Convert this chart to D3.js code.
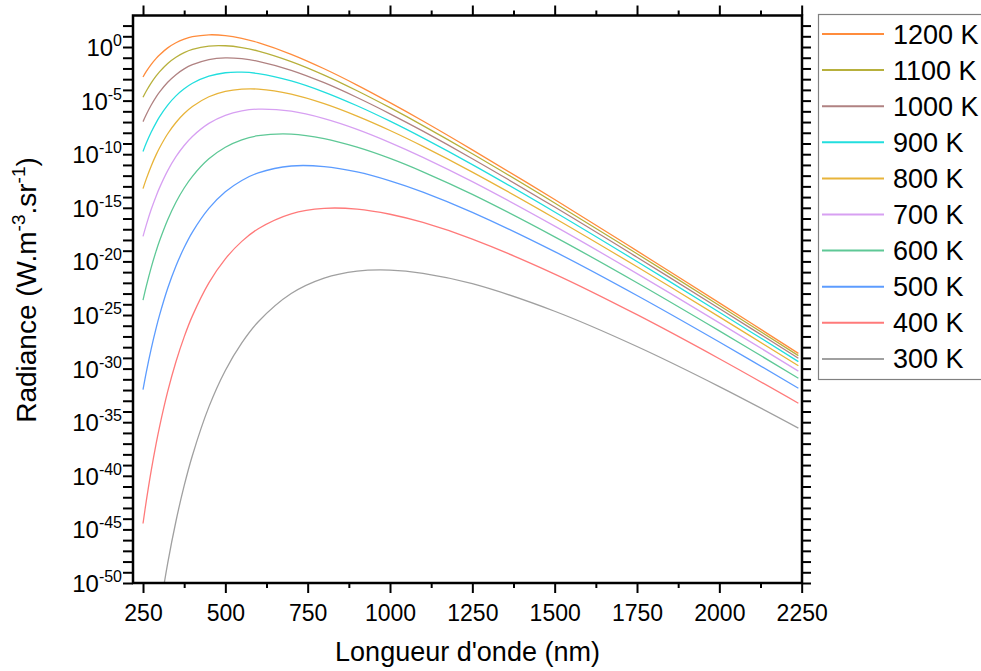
<!DOCTYPE html>
<html><head><meta charset="utf-8">
<script src="https://cdn.jsdelivr.net/npm/d3@7"></script>
<style>body{margin:0;background:#fff;} svg{display:block;}</style>
</head><body>
<svg id="chart" width="981" height="671"></svg>
<script>
// ---- data (radiance given as base-10 exponents) ----
const wavelengths = [250,260,275,290,300,325,350,375,400,450,500,550,600,700,800,900,1000,1100,1250,1500,1750,2000,2240];
const seriesNames = ["1200 K","1100 K","1000 K","900 K","800 K","700 K","600 K","500 K","400 K","300 K"];
const seriesColors = ["#ff8c3c","#b7b03c","#b08282","#22dede","#e8b43a","#d7a0f2","#5ec896","#5c9cff","#ff7a7a","#a0a0a0"];
const exp1200 = [-2.80,-2.28,-1.62,-1.06,-0.74,-0.08,0.40,0.73,0.96,1.14,1.07,0.81,0.41,-0.68,-2.03,-3.55,-5.19,-6.90,-9.59,-14.23,-19.02,-23.87,-28.58];
const exp1100 = [-4.69,-4.10,-3.34,-2.69,-2.32,-1.54,-0.96,-0.53,-0.23,0.09,0.12,-0.05,-0.38,-1.36,-2.62,-4.08,-5.66,-7.33,-9.96,-14.55,-19.29,-24.11,-28.79];
const exp1000 = [-6.96,-6.29,-5.41,-4.65,-4.21,-3.29,-2.58,-2.04,-1.65,-1.17,-1.01,-1.09,-1.33,-2.17,-3.33,-4.71,-6.23,-7.85,-10.42,-14.93,-19.61,-24.39,-29.04];
const exp900  = [-9.74,-8.96,-7.93,-7.05,-6.52,-5.42,-4.56,-3.90,-3.38,-2.72,-2.40,-2.35,-2.48,-3.16,-4.20,-5.48,-6.92,-8.48,-10.97,-15.39,-20.01,-24.74,-29.35];
const exp800  = [-13.21,-12.30,-11.09,-10.04,-9.42,-8.09,-7.04,-6.21,-5.55,-4.64,-4.14,-3.93,-3.93,-4.40,-5.29,-6.45,-7.79,-9.27,-11.67,-15.97,-20.50,-25.17,-29.74];
const exp700  = [-17.67,-16.59,-15.14,-13.89,-13.14,-11.53,-10.23,-9.19,-8.34,-7.12,-6.37,-5.96,-5.79,-5.99,-6.68,-7.68,-8.91,-10.29,-12.56,-16.71,-21.14,-25.73,-30.24];
const exp600  = [-23.62,-22.31,-20.55,-19.02,-18.10,-16.11,-14.48,-13.15,-12.06,-10.43,-9.35,-8.66,-8.27,-8.12,-8.54,-9.34,-10.39,-11.64,-13.75,-17.71,-21.99,-26.48,-30.90];
const exp500  = [-31.96,-30.32,-28.13,-26.20,-25.04,-22.51,-20.43,-18.71,-17.27,-15.06,-13.51,-12.45,-11.74,-11.10,-11.15,-11.65,-12.48,-13.53,-15.42,-19.09,-23.18,-27.52,-31.83];
const exp400  = [-44.45,-42.34,-39.49,-36.97,-35.45,-32.13,-29.36,-27.04,-25.08,-22.00,-19.76,-18.13,-16.95,-15.56,-15.05,-15.12,-15.60,-16.37,-17.92,-21.18,-24.97,-29.08,-33.23];
const exp300  = [-65.28,-62.37,-58.43,-54.93,-52.81,-48.15,-44.24,-40.92,-38.10,-33.57,-30.17,-27.60,-25.63,-23.00,-21.56,-20.91,-20.81,-21.11,-22.08,-24.65,-27.94,-31.68,-35.55];
const xTickValues = [250,500,750,1000,1250,1500,1750,2000,2250];
const xMinorTicks = [375,625,875,1125,1375,1625,1875,2125];
const yLabelExponents = [0,-5,-10,-15,-20,-25,-30,-35,-40,-45,-50];
const xTitle = "Longueur d'onde (nm)";

const seriesExps = [exp1200,exp1100,exp1000,exp900,exp800,exp700,exp600,exp500,exp400,exp300];
const series = seriesNames.map((name,i)=>({
  name, color: seriesColors[i],
  values: wavelengths.map((w,j)=>({x:w, y:Math.pow(10, seriesExps[i][j])}))
}));

// ---- layout ----
const L = 133, R = 802, T = 15.5, B = 583;
const svg = d3.select("#chart");
const x = d3.scaleLinear().domain([219.6, 2251]).range([L, R]);
const y = d3.scaleLog().domain([1e-50, Math.pow(10, 2.94)]).range([B, T]);
const font = "'Liberation Sans', Arial, sans-serif";

svg.append("defs").append("clipPath").attr("id","plotclip")
  .append("rect").attr("x",L).attr("y",T).attr("width",R-L).attr("height",B-T);

// curves
const line = d3.line().x(d=>x(d.x)).y(d=>y(d.y)).curve(d3.curveCatmullRom.alpha(0.5));
svg.append("g").attr("clip-path","url(#plotclip)")
  .selectAll("path").data(series.slice().reverse()).join("path")
  .attr("d", d=>line(d.values))
  .attr("fill","none").attr("stroke", d=>d.color).attr("stroke-width",1.3);

// axes
const yDecades = d3.range(-50, 3, 1).map(e=>Math.pow(10,e));
function styleAxis(g){
  g.select(".domain").remove();
  g.selectAll(".tick line").attr("stroke","#000").attr("stroke-width",2);
}
// bottom major
const gxB = svg.append("g").attr("transform",`translate(0,${B})`)
  .call(d3.axisBottom(x).tickValues(xTickValues).tickSize(10).tickSizeOuter(0).tickPadding(6).tickFormat(d3.format("d")));
styleAxis(gxB);
gxB.selectAll("text").attr("font-family",font).attr("font-size",23).attr("fill","#000").attr("dy","0.95em");
svg.append("g").attr("transform",`translate(0,${B})`)
  .call(d3.axisBottom(x).tickValues(xMinorTicks).tickSize(5).tickFormat("")).call(styleAxis);
// top
svg.append("g").attr("transform",`translate(0,${T})`)
  .call(d3.axisTop(x).tickValues(xTickValues).tickSize(10).tickFormat("")).call(styleAxis);
svg.append("g").attr("transform",`translate(0,${T})`)
  .call(d3.axisTop(x).tickValues(xMinorTicks).tickSize(5).tickFormat("")).call(styleAxis);
// left
svg.append("g").attr("transform",`translate(${L},0)`)
  .call(d3.axisLeft(y).tickValues(yDecades).tickSize(10).tickFormat("")).call(styleAxis);
// right
svg.append("g").attr("transform",`translate(${R},0)`)
  .call(d3.axisRight(y).tickValues(yDecades).tickSize(9).tickFormat("")).call(styleAxis);

// y labels with superscript
const yl = svg.append("g");
yLabelExponents.forEach(e=>{
  const t = yl.append("text").attr("x", L-11).attr("y", y(Math.pow(10,e)) + 9)
    .attr("text-anchor","end").attr("font-family",font).attr("font-size",24).attr("fill","#000");
  t.append("tspan").text("10");
  t.append("tspan").attr("font-size",16).attr("dy",-10).text(String(e));
});

// frame
svg.append("rect").attr("x",L).attr("y",T).attr("width",R-L).attr("height",B-T)
  .attr("fill","none").attr("stroke","#000").attr("stroke-width",2.5);

// axis titles
svg.append("text").attr("x",(L+R)/2).attr("y",661).attr("text-anchor","middle")
  .attr("font-family",font).attr("font-size",27).attr("fill","#000").text(xTitle);
const yt = svg.append("text").attr("transform","translate(36,290) rotate(-90)")
  .attr("text-anchor","middle").attr("font-family",font).attr("font-size",28).attr("fill","#000");
yt.append("tspan").text("Radiance (W.m");
yt.append("tspan").attr("font-size",19).attr("dy",-11).text("-3");
yt.append("tspan").attr("dy",11).text(".sr");
yt.append("tspan").attr("font-size",19).attr("dy",-11).text("-1");
yt.append("tspan").attr("dy",11).text(")");

// legend
const lg = svg.append("g");
lg.append("rect").attr("x",818.5).attr("y",14.5).attr("width",200).attr("height",365)
  .attr("fill","#fff").attr("stroke","#808080").attr("stroke-width",1.2);
series.forEach((s,i)=>{
  const cy = 34 + i*36.1;
  lg.append("line").attr("x1",822).attr("x2",884).attr("y1",cy).attr("y2",cy)
    .attr("stroke",s.color).attr("stroke-width",2);
  lg.append("text").attr("x",893).attr("y",cy+9.5).attr("font-family",font)
    .attr("font-size",27).attr("fill","#000").text(s.name);
});
</script>
</body></html>
